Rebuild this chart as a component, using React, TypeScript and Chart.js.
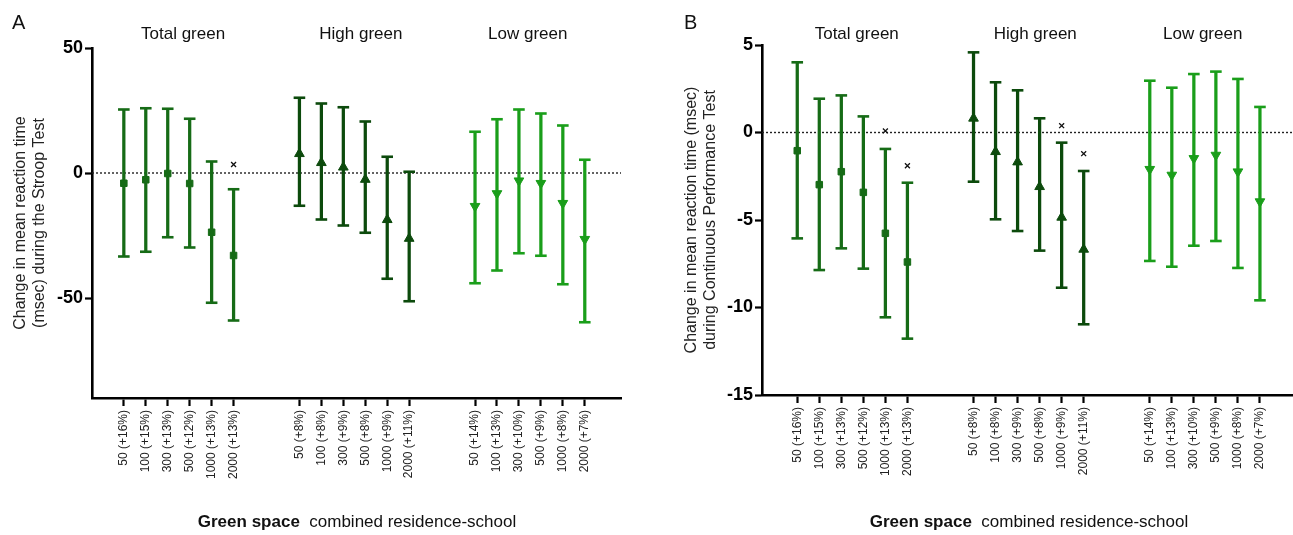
import React, { useEffect, useRef } from 'react';
import { Chart, registerables } from 'chart.js';
Chart.register(...registerables);

// ---------- data ----------
const totalLabels = ['50 (+16%)', '100 (+15%)', '300 (+13%)', '500 (+12%)', '1000 (+13%)', '2000 (+13%)'];
const highLabels = ['50 (+8%)', '100 (+8%)', '300 (+9%)', '500 (+8%)', '1000 (+9%)', '2000 (+11%)'];
const lowLabels = ['50 (+14%)', '100 (+13%)', '300 (+10%)', '500 (+9%)', '1000 (+8%)', '2000 (+7%)'];
const groupNames = ['Total green', 'High green', 'Low green'];
const totalPos = [0, 1, 2, 3, 4, 5];
const highPos = [8, 9, 10, 11, 12, 13];
const lowPos = [16, 17, 18, 19, 20, 21];

// Panel A: Stroop test (msec)
const stroopTotalMean = [-4.1, -2.7, -0.2, -4.2, -23.7, -33.0];
const stroopTotalLower = [-33.4, -31.5, -25.7, -29.8, -51.9, -59.0];
const stroopTotalUpper = [25.4, 25.9, 25.7, 21.7, 4.6, -6.5];
const stroopHighMean = [7.7, 4.1, 2.3, -2.6, -18.7, -26.2];
const stroopHighLower = [-13.1, -18.6, -21.0, -23.9, -42.3, -51.3];
const stroopHighUpper = [30.1, 27.8, 26.3, 20.6, 6.5, 0.5];
const stroopLowMean = [-13.3, -8.2, -3.1, -4.1, -12.1, -26.5];
const stroopLowLower = [-44.1, -39.0, -32.1, -33.1, -44.5, -59.7];
const stroopLowUpper = [16.5, 21.5, 25.4, 23.8, 19.0, 5.3];
const stroopCrossX = [5];
const stroopCrossY = [3.4];
const stroopYTicks = [-50, 0, 50];

// Panel B: Continuous Performance Test (msec)
const cptTotalMean = [-1.04, -2.98, -2.24, -3.42, -5.76, -7.4];
const cptTotalLower = [-6.05, -7.86, -6.62, -7.78, -10.56, -11.78];
const cptTotalUpper = [4.01, 1.93, 2.12, 0.92, -0.94, -2.87];
const cptHighMean = [0.81, -1.1, -1.69, -3.1, -4.85, -6.68];
const cptHighLower = [-2.81, -4.96, -5.63, -6.75, -8.87, -10.96];
const cptHighUpper = [4.58, 2.87, 2.41, 0.81, -0.58, -2.2];
const cptLowMean = [-2.1, -2.43, -1.48, -1.29, -2.24, -3.95];
const cptLowLower = [-7.34, -7.67, -6.47, -6.2, -7.74, -9.59];
const cptLowUpper = [2.96, 2.56, 3.34, 3.48, 3.06, 1.46];
const cptCrossX = [4, 5, 12, 13];
const cptCrossY = [0.09, -1.9, 0.39, -1.21];
const cptYTicks = [-15, -10, -5, 0, 5];

// ---------- styles ----------
const FONT = '"Liberation Sans", Arial, sans-serif';
const colTotal = '#166b16';
const colHigh = '#0c4a0c';
const colLow = '#1a9e1a';

type Group = { pos: number[]; mean: number[]; lower: number[]; upper: number[]; color: string; style: string; rotation: number; radius: number };

type Panel = {
  letter: string;
  width: number;
  left: number;
  xMin: number;
  xMax: number;
  yMin: number;
  yMax: number;
  yTicks: number[];
  padTop: number;
  padRight: number;
  xHeight: number;
  yWidth: number;
  yTitle: string[];
  yTitlePad: number;
  groups: Group[];
  crossX: number[];
  crossY: number[];
  letterX: number;
  xTitleCenter: number;
};

const allPos = [...totalPos, ...highPos, ...lowPos];
const allLabels = [...totalLabels, ...highLabels, ...lowLabels];
const groupCenters = [2.7, 10.8, 18.4];

function makeGroups(
  tm: number[], tl: number[], tu: number[],
  hm: number[], hl: number[], hu: number[],
  lm: number[], ll: number[], lu: number[]
): Group[] {
  return [
    { pos: totalPos, mean: tm, lower: tl, upper: tu, color: colTotal, style: 'rect', rotation: 0, radius: 4.6 },
    { pos: highPos, mean: hm, lower: hl, upper: hu, color: colHigh, style: 'triangle', rotation: 0, radius: 5.6 },
    { pos: lowPos, mean: lm, lower: ll, upper: lu, color: colLow, style: 'triangle', rotation: 180, radius: 5.6 },
  ];
}

const panels: Panel[] = [
  {
    letter: 'A', width: 646, left: 0,
    xMin: -1.45, xMax: 22.65, yMin: -90, yMax: 50, yTicks: stroopYTicks,
    padTop: 48, padRight: 25, xHeight: 137, yWidth: 92,
    yTitle: ['Change in mean reaction time', '(msec) during the Stroop Test'], yTitlePad: 11,
    groups: makeGroups(stroopTotalMean, stroopTotalLower, stroopTotalUpper, stroopHighMean, stroopHighLower, stroopHighUpper, stroopLowMean, stroopLowLower, stroopLowUpper),
    crossX: stroopCrossX, crossY: stroopCrossY, letterX: 12, xTitleCenter: 357,
  },
  {
    letter: 'B', width: 647, left: 646,
    xMin: -1.6, xMax: 22.5, yMin: -15, yMax: 5, yTicks: cptYTicks,
    padTop: 45, padRight: 0, xHeight: 140, yWidth: 116,
    yTitle: ['Change in mean reaction time (msec)', 'during Continuous Performance Test'], yTitlePad: 36,
    groups: makeGroups(cptTotalMean, cptTotalLower, cptTotalUpper, cptHighMean, cptHighLower, cptHighUpper, cptLowMean, cptLowLower, cptLowUpper),
    crossX: cptCrossX, crossY: cptCrossY, letterX: 38, xTitleCenter: 383,
  },
];

function buildConfig(p: Panel): any {
  const datasets: any[] = [];
  datasets.push({
    type: 'line', data: [{ x: p.xMin, y: 0 }, { x: p.xMax, y: 0 }],
    borderColor: '#222', borderWidth: 1.4, borderDash: [2, 2], pointRadius: 0, order: 10,
  });
  p.groups.forEach((g) => {
    datasets.push({
      type: 'bar', data: g.pos.map((x, i) => ({ x, y: [g.lower[i], g.upper[i]] })),
      backgroundColor: g.color, borderWidth: 0, barThickness: 2.6, grouped: false, order: 5,
    });
    datasets.push({
      type: 'scatter',
      data: [...g.pos.map((x, i) => ({ x, y: g.lower[i] })), ...g.pos.map((x, i) => ({ x, y: g.upper[i] }))],
      pointStyle: 'line', pointRadius: 5.8, borderColor: g.color, borderWidth: 2.6, order: 4,
    });
    datasets.push({
      type: 'scatter', data: g.pos.map((x, i) => ({ x, y: g.mean[i] })),
      pointStyle: g.style, rotation: g.rotation, pointRadius: g.radius,
      backgroundColor: g.color, borderColor: g.color, borderWidth: 1, order: 3,
    });
  });
  datasets.push({
    type: 'scatter', data: p.crossX.map((x, i) => ({ x, y: p.crossY[i] })),
    pointStyle: 'crossRot', pointRadius: 3.5, borderColor: '#111', borderWidth: 1.3, order: 2,
  });

  const textPlugin = {
    id: 'panelText',
    afterDraw(chart: any) {
      const ctx = chart.ctx;
      const xs = chart.scales.x;
      ctx.save();
      ctx.fillStyle = '#111';
      ctx.textBaseline = 'alphabetic';
      ctx.textAlign = 'left';
      ctx.font = `20px ${FONT}`;
      ctx.fillText(p.letter, p.letterX, 29);
      ctx.font = `17px ${FONT}`;
      ctx.textAlign = 'center';
      groupNames.forEach((n, i) => {
        ctx.fillText(n, xs.getPixelForValue(groupCenters[i]), 39);
      });
      const bold = 'Green space';
      const rest = '  combined residence-school';
      ctx.font = `bold 17px ${FONT}`;
      const wb = ctx.measureText(bold).width;
      ctx.font = `17px ${FONT}`;
      const wr = ctx.measureText(rest).width;
      const x0 = p.xTitleCenter - (wb + wr) / 2;
      ctx.textAlign = 'left';
      ctx.font = `bold 17px ${FONT}`;
      ctx.fillText(bold, x0, 527);
      ctx.font = `17px ${FONT}`;
      ctx.fillText(rest, x0 + wb, 527);
      ctx.restore();
    },
  };

  return {
    type: 'scatter',
    data: { datasets },
    plugins: [textPlugin],
    options: {
      animation: false,
      responsive: false,
      devicePixelRatio: 1,
      layout: { autoPadding: false, padding: { left: 0, right: p.padRight, top: p.padTop, bottom: 0 } },
      plugins: { legend: { display: false }, tooltip: { enabled: false } },
      scales: {
        x: {
          type: 'linear', min: p.xMin, max: p.xMax, offset: false,
          afterBuildTicks: (s: any) => { s.ticks = allPos.map((v) => ({ value: v })); },
          afterFit: (s: any) => { s.height = p.xHeight; s.paddingLeft = 0; s.paddingRight = 0; },
          grid: { display: true, drawOnChartArea: false, drawTicks: true, tickLength: 8, tickWidth: 2.2, tickColor: '#000', offset: false },
          border: { display: true, color: '#000', width: 2.6 },
          ticks: {
            autoSkip: false, minRotation: 90, maxRotation: 90, padding: 4,
            color: '#222', font: { size: 12, family: FONT },
            callback: (_v: any, i: number) => allLabels[i],
          },
        },
        y: {
          type: 'linear', min: p.yMin, max: p.yMax,
          afterBuildTicks: (s: any) => { s.ticks = p.yTicks.map((v) => ({ value: v })); },
          afterFit: (s: any) => { s.width = p.yWidth; s.paddingTop = 0; s.paddingBottom = 0; },
          grid: { display: true, drawOnChartArea: false, drawTicks: true, tickLength: 7, tickWidth: 2.2, tickColor: '#000' },
          border: { display: true, color: '#000', width: 2.6 },
          ticks: {
            padding: 2, color: '#000', font: { size: 18, weight: 'bold', family: FONT },
            callback: (v: any) => String(v),
          },
          title: {
            display: true, text: p.yTitle, color: '#222',
            font: { size: 16, family: FONT, lineHeight: 1.2 },
            padding: { top: p.yTitlePad, bottom: 0 },
          },
        },
      },
    },
  };
}

function PanelChart({ p }: { p: Panel }) {
  const ref = useRef<HTMLCanvasElement | null>(null);
  useEffect(() => {
    if (!ref.current) return;
    const chart = new Chart(ref.current, buildConfig(p));
    return () => chart.destroy();
  }, [p]);
  return (
    <canvas
      ref={ref}
      width={p.width}
      height={535}
      style={{ position: 'absolute', left: p.left, top: 0, width: p.width, height: 535 }}
    />
  );
}

export default function App() {
  return (
    <div style={{ position: 'absolute', left: 0, top: 0, width: 1293, height: 535, background: '#fff', overflow: 'hidden' }}>
      {panels.map((p) => (
        <PanelChart key={p.letter} p={p} />
      ))}
    </div>
  );
}
